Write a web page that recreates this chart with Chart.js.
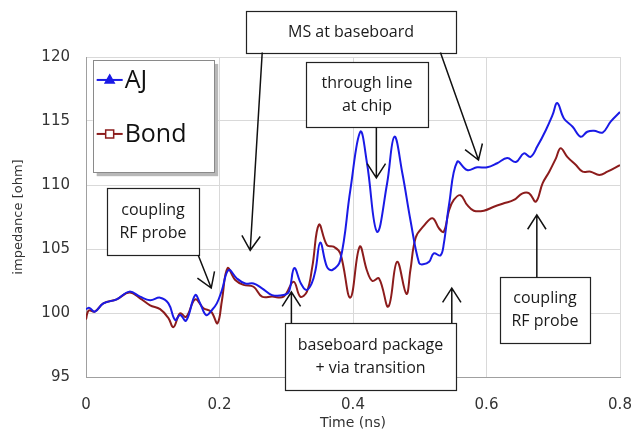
<!DOCTYPE html>
<html>
<head>
<meta charset="utf-8">
<script src="https://cdn.jsdelivr.net/npm/chart.js@4"></script>
<style>
  body { margin: 0; background: #fff; }
  #wrap { width: 633px; height: 432px; }
</style>
</head>
<body>
<div id="wrap"><canvas id="chart"></canvas></div>
<script>
// AJ trace (blue)
const ajTime = [0, 0.005, 0.013, 0.026, 0.046, 0.065, 0.081, 0.096, 0.111, 0.1235, 0.1336, 0.141, 0.150, 0.1636, 0.171, 0.180, 0.1886, 0.196, 0.2037, 0.2136, 0.226, 0.2386, 0.251, 0.2637, 0.2787, 0.296, 0.304, 0.312, 0.322, 0.330, 0.338, 0.344, 0.351, 0.361, 0.369, 0.381, 0.396, 0.411, 0.421, 0.436, 0.451, 0.462, 0.474, 0.486, 0.499, 0.505, 0.514, 0.521, 0.531, 0.536, 0.544, 0.556, 0.571, 0.586, 0.601, 0.616, 0.631, 0.644, 0.656, 0.666, 0.676, 0.689, 0.699, 0.706, 0.716, 0.729, 0.741, 0.751, 0.761, 0.774, 0.786, 0.8];
const ajImpedance = [100.3, 100.4, 100.1, 100.75, 101.07, 101.67, 101.28, 101.0, 101.2, 100.75, 99.45, 99.84, 99.4, 101.4, 100.75, 99.84, 100.23, 100.75, 101.8, 103.36, 102.7, 102.3, 102.3, 101.93, 101.4, 101.4, 101.67, 103.5, 102.3, 101.8, 102.3, 103.4, 105.5, 103.6, 103.36, 104.14, 109.6, 114.16, 111.7, 106.35, 110.1, 113.77, 110.9, 107.27, 103.9, 103.8, 104.0, 104.66, 104.5, 105.4, 108.5, 111.8, 111.17, 111.38, 111.38, 111.7, 112.1, 111.8, 112.47, 112.2, 113.0, 114.3, 115.47, 116.4, 115.2, 114.55, 113.77, 114.16, 114.24, 114.1, 114.95, 115.7];

// Bond trace (dark red)
const bondTime = [0, 0.004, 0.013, 0.026, 0.046, 0.065, 0.081, 0.096, 0.111, 0.1235, 0.131, 0.141, 0.150, 0.1636, 0.176, 0.1876, 0.197, 0.2037, 0.212, 0.2236, 0.236, 0.251, 0.2637, 0.2787, 0.296, 0.311, 0.321, 0.331, 0.339, 0.349, 0.361, 0.371, 0.381, 0.396, 0.41, 0.421, 0.429, 0.439, 0.453, 0.466, 0.48, 0.486, 0.494, 0.506, 0.519, 0.529, 0.536, 0.544, 0.551, 0.561, 0.571, 0.581, 0.596, 0.611, 0.626, 0.641, 0.654, 0.664, 0.674, 0.684, 0.694, 0.704, 0.711, 0.721, 0.734, 0.744, 0.756, 0.769, 0.781, 0.8];
const bondImpedance = [99.5, 100.2, 100.1, 100.75, 101.07, 101.6, 101.15, 100.6, 100.3, 99.6, 98.9, 99.97, 99.7, 101.07, 100.37, 100.1, 99.2, 101.0, 103.5, 102.58, 102.2, 102.05, 101.28, 101.28, 101.28, 102.45, 101.28, 101.67, 103.6, 106.9, 105.3, 105.18, 104.66, 101.2, 105.18, 103.3, 102.5, 102.7, 100.5, 104.0, 101.5, 103.36, 105.9, 106.8, 107.4, 106.6, 106.35, 108.05, 108.83, 109.2, 108.44, 107.99, 107.99, 108.3, 108.57, 108.83, 109.35, 109.35, 108.7, 110.13, 111.04, 112.08, 112.87, 112.2, 111.56, 111.04, 111.04, 110.78, 111.04, 111.56];

const xTicks = [0, 0.2, 0.4, 0.6, 0.8];
const yTicks = [95, 100, 105, 110, 115, 120];

// callout boxes: [left, right] in ns, [top, bottom] in ohm, arrows as [fromX, fromY, toX, toY]
const notes = [
  { lines: ['MS at baseboard'], bx: [0.239, 0.554], by: [123.6, 120.35],
    arrows: [[0.264, 120.35, 0.246, 104.9], [0.531, 120.35, 0.588, 111.95]] },
  { lines: ['through line', 'at chip'], bx: [0.329, 0.513], by: [119.6, 114.53],
    arrows: [[0.435, 114.53, 0.435, 110.55]] },
  { lines: ['coupling', 'RF probe'], bx: [0.0315, 0.1696], by: [109.77, 104.53],
    arrows: [[0.168, 104.53, 0.1876, 101.95]] },
  { lines: ['baseboard package', '+ via transition'], bx: [0.2987, 0.555], by: [99.22, 93.98],
    arrows: [[0.3077, 99.22, 0.3077, 101.64], [0.548, 99.22, 0.548, 101.95]] },
  { lines: ['coupling', 'RF probe'], bx: [0.62, 0.755], by: [102.8, 97.66],
    arrows: [[0.6754, 102.8, 0.6754, 107.66]] }
];
const legendBox = { bx: [0.010, 0.192], by: [119.77, 111.0] };

const blue = '#1a1ae6';
const red = '#8c1c1c';

function drawArrow(ctx, x1, y1, x2, y2) {
  const a = Math.atan2(y2 - y1, x2 - x1);
  const len = 17, spread = Math.PI / 5.5;
  ctx.beginPath();
  ctx.moveTo(x1, y1);
  ctx.lineTo(x2, y2);
  ctx.moveTo(x2 - len * Math.cos(a - spread), y2 - len * Math.sin(a - spread));
  ctx.lineTo(x2, y2);
  ctx.lineTo(x2 - len * Math.cos(a + spread), y2 - len * Math.sin(a + spread));
  ctx.stroke();
}

const callouts = {
  id: 'callouts',
  afterDraw(chart) {
    const { ctx, scales: { x, y } } = chart;
    ctx.save();

    // legend box with shadow
    const ll = x.getPixelForValue(legendBox.bx[0]), lr = x.getPixelForValue(legendBox.bx[1]);
    const lt = y.getPixelForValue(legendBox.by[0]), lb = y.getPixelForValue(legendBox.by[1]);
    ctx.fillStyle = '#b8b8b8';
    ctx.fillRect(ll + 4, lt + 4, lr - ll, lb - lt);
    ctx.fillStyle = '#fff';
    ctx.fillRect(ll, lt, lr - ll, lb - lt);
    ctx.strokeStyle = '#8a8a8a';
    ctx.lineWidth = 1;
    ctx.strokeRect(Math.round(ll) + 0.5, Math.round(lt) + 0.5, Math.round(lr - ll), Math.round(lb - lt));

    const entries = [
      { label: 'AJ', color: blue, marker: 'tri', cy: lt + 20 },
      { label: 'Bond', color: red, marker: 'sq', cy: lt + 74 }
    ];
    entries.forEach(e => {
      ctx.strokeStyle = e.color;
      ctx.lineWidth = 2;
      ctx.beginPath();
      ctx.moveTo(ll + 4, e.cy);
      ctx.lineTo(ll + 30, e.cy);
      ctx.stroke();
      ctx.fillStyle = '#fff';
      ctx.lineWidth = 1.5;
      ctx.beginPath();
      const mx = ll + 17;
      if (e.marker === 'tri') {
        ctx.moveTo(mx, e.cy - 5);
        ctx.lineTo(mx + 4.5, e.cy + 3);
        ctx.lineTo(mx - 4.5, e.cy + 3);
        ctx.closePath();
        ctx.fillStyle = e.color;
      } else {
        ctx.rect(mx - 4, e.cy - 4, 8, 8);
      }
      ctx.fill();
      ctx.stroke();
      ctx.fillStyle = '#111';
      ctx.font = '25px "Open Sans"';
      ctx.textAlign = 'left';
      ctx.textBaseline = 'middle';
      ctx.fillText(e.label, ll + 32, e.cy + 1);
    });

    // callout boxes and arrows
    notes.forEach(n => {
      const l = Math.round(x.getPixelForValue(n.bx[0])), r = Math.round(x.getPixelForValue(n.bx[1]));
      const t = Math.round(y.getPixelForValue(n.by[0])), b = Math.round(y.getPixelForValue(n.by[1]));
      ctx.fillStyle = '#fff';
      ctx.fillRect(l, t, r - l, b - t);
      ctx.strokeStyle = '#222';
      ctx.lineWidth = 1.2;
      ctx.strokeRect(l + 0.5, t + 0.5, r - l, b - t);
      ctx.fillStyle = '#1a1a1a';
      ctx.font = '16px "Open Sans"';
      ctx.textAlign = 'center';
      ctx.textBaseline = 'middle';
      const cx = (l + r) / 2, cy = (t + b) / 2, lh = 23;
      n.lines.forEach((s, i) => {
        ctx.fillText(s, cx, cy + (i - (n.lines.length - 1) / 2) * lh);
      });
      ctx.strokeStyle = '#111';
      ctx.lineWidth = 1.5;
      n.arrows.forEach(a => {
        drawArrow(ctx, x.getPixelForValue(a[0]), y.getPixelForValue(a[1]),
                       x.getPixelForValue(a[2]), y.getPixelForValue(a[3]));
      });
    });
    ctx.restore();
  }
};

const ctx = document.getElementById('chart');

new Chart(ctx, {
  type: 'line',
  data: {
    datasets: [
      {
        label: 'AJ',
        data: ajTime.map((t, i) => ({ x: t, y: ajImpedance[i] })),
        borderColor: blue,
        borderWidth: 2,
        pointRadius: 0,
        fill: false,
        tension: 0.4
      },
      {
        label: 'Bond',
        data: bondTime.map((t, i) => ({ x: t, y: bondImpedance[i] })),
        borderColor: red,
        borderWidth: 2,
        pointRadius: 0,
        fill: false,
        tension: 0.4
      }
    ]
  },
  options: {
    responsive: true,
    maintainAspectRatio: false,
    animation: false,
    layout: { padding: { top: 57, right: 13, left: 0, bottom: 0 } },
    plugins: {
      legend: { display: false },
      tooltip: { enabled: false }
    },
    scales: {
      x: {
        type: 'linear',
        min: 0,
        max: 0.8,
        afterBuildTicks: s => { s.ticks = xTicks.map(v => ({ value: v })); },
        afterFit: s => { s.height = 55; s.paddingLeft = 0; s.paddingRight = 0; },
        grid: { color: '#d9d9d9', drawTicks: false },
        border: { color: '#a0a0a0' },
        ticks: {
          padding: 19,
          color: '#333',
          font: { family: 'DejaVu Sans', size: 15 },
          callback: v => String(Number(v.toFixed(1)))
        },
        title: {
          display: true,
          text: 'Time (ns)',
          color: '#333',
          font: { family: 'DejaVu Sans', size: 14 },
          padding: { top: 0, bottom: 0 }
        }
      },
      y: {
        min: 95,
        max: 120,
        afterBuildTicks: s => { s.ticks = yTicks.map(v => ({ value: v })); },
        afterFit: s => { s.width = 86; s.paddingTop = 0; s.paddingBottom = 0; },
        grid: { color: '#d9d9d9', drawTicks: false },
        border: { color: '#a0a0a0' },
        ticks: {
          padding: 16,
          color: '#333',
          font: { family: 'DejaVu Sans', size: 15 }
        },
        title: {
          display: true,
          text: 'impedance [ohm]',
          color: '#333',
          font: { family: 'DejaVu Sans', size: 13 },
          padding: { top: 11, bottom: 10 }
        }
      }
    }
  },
  plugins: [callouts]
});
</script>
</body>
</html>
